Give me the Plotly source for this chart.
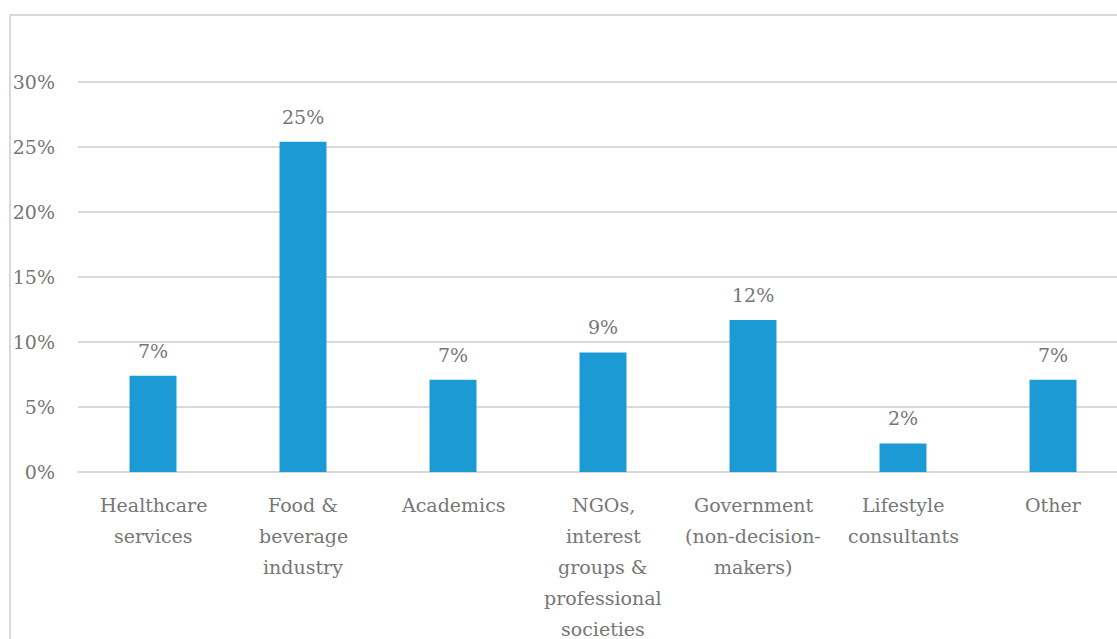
import plotly.graph_objects as go

# Share of respondents by sector
categories = [
    "Healthcare services",
    "Food & beverage industry",
    "Academics",
    "NGOs, interest groups & professional societies",
    "Government (non-decision-makers)",
    "Lifestyle consultants",
    "Other",
]
# Category labels broken into display lines
label_lines = [
    ["Healthcare", "services"],
    ["Food &", "beverage", "industry"],
    ["Academics"],
    ["NGOs,", "interest", "groups &", "professional", "societies"],
    ["Government", "(non-decision-", "makers)"],
    ["Lifestyle", "consultants"],
    ["Other"],
]
shares = [0.074, 0.254, 0.071, 0.092, 0.117, 0.022, 0.071]

y_ticks = [0, 0.05, 0.10, 0.15, 0.20, 0.25, 0.30]
y_ticktext = ["0%", "5%", "10%", "15%", "20%", "25%", "30%"]

# Layout geometry (pixels)
W, H = 1117, 639
ML, MR, MT, MB = 78, 0, 43, 167
CAT_PX = 150.0
plot_w = W - ML - MR
plot_h = H - MT - MB

FONT = "DejaVu Serif"
FS = 19
TEXT_COLOR = "#767676"
GRID = "#d9d9d9"
BAR = "#1b9ad6"


def px_to_paper_x(px):
    return (px - ML) / plot_w


def px_to_paper_y(py):
    return (H - MB - py) / plot_h


x_idx = list(range(len(categories)))

fig = go.Figure(
    go.Bar(
        x=x_idx,
        y=shares,
        width=0.313,
        marker=dict(color=BAR, line=dict(width=0)),
        hovertext=categories,
    )
)

annotations = []
# value labels above bars
for i, v in enumerate(shares):
    annotations.append(dict(
        x=i, y=v, xref="x", yref="y",
        text=f"{round(v * 100)}%",
        showarrow=False, yanchor="middle", yshift=25,
        font=dict(family=FONT, size=FS, color=TEXT_COLOR),
    ))
# category labels, one line at a time
for i, lines in enumerate(label_lines):
    for j, line in enumerate(lines):
        annotations.append(dict(
            x=i, y=0, xref="x", yref="paper",
            text=line, showarrow=False, yanchor="middle",
            yshift=-(33 + 31 * j),
            font=dict(family=FONT, size=FS, color=TEXT_COLOR),
        ))

# outer chart frame (left and top edges)
frame_x = px_to_paper_x(10)
frame_y = px_to_paper_y(15)
shapes = [
    dict(type="line", xref="paper", yref="paper",
         x0=frame_x, x1=px_to_paper_x(W + 5), y0=frame_y, y1=frame_y,
         line=dict(color=GRID, width=2)),
    dict(type="line", xref="paper", yref="paper",
         x0=frame_x, x1=frame_x, y0=frame_y, y1=px_to_paper_y(H + 5),
         line=dict(color=GRID, width=2)),
]

fig.update_layout(
    width=W, height=H,
    margin=dict(l=ML, r=MR, t=MT, b=MB, pad=0),
    paper_bgcolor="white", plot_bgcolor="white",
    showlegend=False,
    font=dict(family=FONT, size=FS, color=TEXT_COLOR),
    annotations=annotations,
    shapes=shapes,
    xaxis=dict(
        range=[-0.5, -0.5 + plot_w / CAT_PX],
        showticklabels=False, showgrid=False, zeroline=False,
        showline=False, ticks="",
    ),
    yaxis=dict(
        range=[0, 0.33],
        tickvals=y_ticks, ticktext=y_ticktext,
        showgrid=True, gridcolor=GRID, gridwidth=2,
        zeroline=True, zerolinecolor=GRID, zerolinewidth=2,
        showline=False, ticks="", ticklabelstandoff=22,
        tickfont=dict(family=FONT, size=FS, color=TEXT_COLOR),
    ),
)

fig.write_html("out.html")
